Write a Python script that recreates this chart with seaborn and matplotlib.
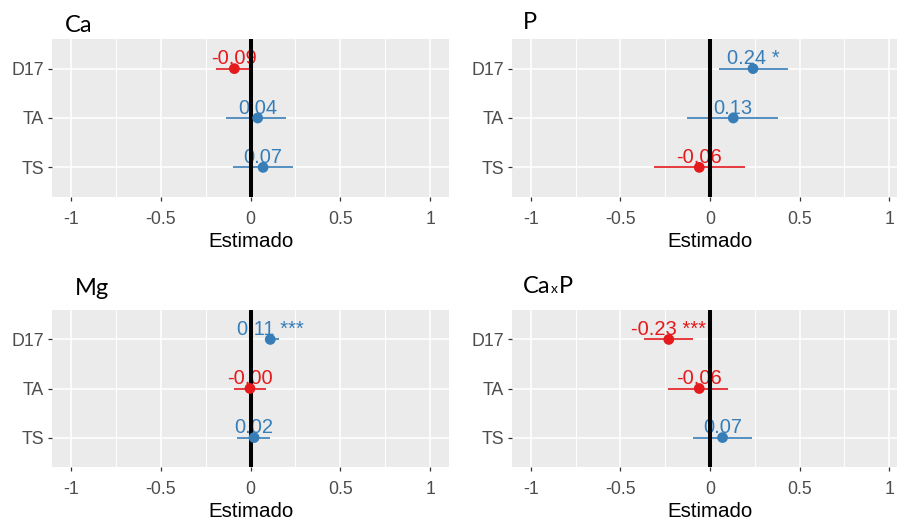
import matplotlib
matplotlib.use("Agg")
import matplotlib.pyplot as plt
from matplotlib.ticker import MultipleLocator, FixedLocator
import seaborn as sns
import pandas as pd
import numpy as np

# ---- data ----
categories = ["D17", "TA", "TS"]
panels = ["Ca", "P", "Mg", "CaxP"]

ca_est = [-0.09, 0.04, 0.07]
ca_lo = [-0.19, -0.135, -0.10]
ca_hi = [0.005, 0.20, 0.235]
ca_sig = ["", "", ""]

p_est = [0.24, 0.13, -0.06]
p_lo = [0.048, -0.13, -0.31]
p_hi = [0.433, 0.378, 0.195]
p_sig = ["*", "", ""]

mg_est = [0.11, -0.003, 0.02]
mg_lo = [0.085, -0.09, -0.074]
mg_hi = [0.16, 0.087, 0.11]
mg_sig = ["***", "", ""]

cxp_est = [-0.23, -0.06, 0.07]
cxp_lo = [-0.367, -0.237, -0.097]
cxp_hi = [-0.097, 0.098, 0.235]
cxp_sig = ["***", "", ""]

x_ticks = [-1, -0.5, 0, 0.5, 1]
x_tick_labels = ["-1", "-0.5", "0", "0.5", "1"]
x_label = "Estimado"

RED = "#E41A1C"
BLUE = "#377EB8"

sns.set_theme(style="darkgrid", rc={
    "axes.facecolor": "#EBEBEB",
    "grid.color": "white",
    "xtick.bottom": True,
    "ytick.left": True,
})
plt.rcParams["font.family"] = ["Liberation Sans", "DejaVu Sans"]

W, H = 897, 520
fig = plt.figure(figsize=(W / 100, H / 100), dpi=100)

def box(x0, y0, x1, y1):
    return [x0 / W, 1 - y1 / H, (x1 - x0) / W, (y1 - y0) / H]

positions = [box(52, 39, 449, 197), box(512, 39, 908, 197),
             box(52, 310, 449, 467), box(512, 310, 908, 467)]

data = [
    (ca_est, ca_lo, ca_hi, ca_sig),
    (p_est, p_lo, p_hi, p_sig),
    (mg_est, mg_lo, mg_hi, mg_sig),
    (cxp_est, cxp_lo, cxp_hi, cxp_sig),
]

for pos, (est, lo, hi, sig) in zip(positions, data):
    ax = fig.add_axes(pos)
    df = pd.DataFrame({"cat": categories, "est": est, "lo": lo, "hi": hi, "sig": sig})
    df["sign"] = np.where(df["est"] < 0, "neg", "pos")
    colors = [RED if s == "neg" else BLUE for s in df["sign"]]
    # error bars
    ax.hlines(y=df["cat"], xmin=df["lo"], xmax=df["hi"], colors=colors, lw=1.2, zorder=2)
    # points
    sns.scatterplot(data=df, x="est", y="cat", hue="sign",
                    palette={"neg": RED, "pos": BLUE}, s=60, linewidth=0,
                    legend=False, ax=ax, zorder=5)
    # labels
    for i, r in df.iterrows():
        lab = f"{r['est']:.2f}" + (f" {r['sig']}" if r["sig"] else "")
        ax.annotate(lab, xy=(r["est"], i), xytext=(0, 3), textcoords="offset points",
                    ha="center", va="baseline", fontsize=14.5,
                    color=RED if r["sign"] == "neg" else BLUE, zorder=3)
    ax.axvline(0, color="black", lw=2.9, zorder=4)

    ax.set_xlim(-1.105, 1.105)
    ax.set_ylim(2.6, -0.6)
    ax.xaxis.set_major_locator(FixedLocator(x_ticks))
    ax.set_xticklabels(x_tick_labels)
    ax.xaxis.set_minor_locator(MultipleLocator(0.25))
    ax.grid(which="major", color="white", lw=1.1)
    ax.grid(which="minor", axis="x", color="white", lw=0.7)
    ax.tick_params(which="major", length=3, width=0.9, color="#333333",
                   labelcolor="#4D4D4D", labelsize=12.8, pad=2.5)
    ax.tick_params(axis="x", which="major", pad=7)
    ax.tick_params(which="minor", length=0)
    ax.set_ylabel("")
    ax.set_xlabel(x_label, fontsize=14.8, color="black", labelpad=3)
    for s in ax.spines.values():
        s.set_visible(False)

# panel titles
tfont = dict(family=["Lato", "DejaVu Sans"], fontsize=17, color="black", va="baseline")
fig.text(65 / W, 1 - 32 / H, "Ca", **tfont)
fig.text(523 / W, 1 - 29 / H, "P", **tfont)
fig.text(75 / W, 1 - 295 / H, "Mg", **tfont)
t1 = fig.text(523 / W, 1 - 293 / H, "Ca", **tfont)
fig.canvas.draw()
r = fig.canvas.get_renderer()
bb = t1.get_window_extent(r)
t2 = fig.text(bb.x1 / W + 0.5 / W, 1 - 293 / H, "x", family=["Lato", "DejaVu Sans"],
              fontsize=10, color="black", va="baseline")
bb2 = t2.get_window_extent(r)
fig.text(bb2.x1 / W + 0.5 / W, 1 - 293 / H, "P", **tfont)

fig.savefig("out.png", dpi=100)
